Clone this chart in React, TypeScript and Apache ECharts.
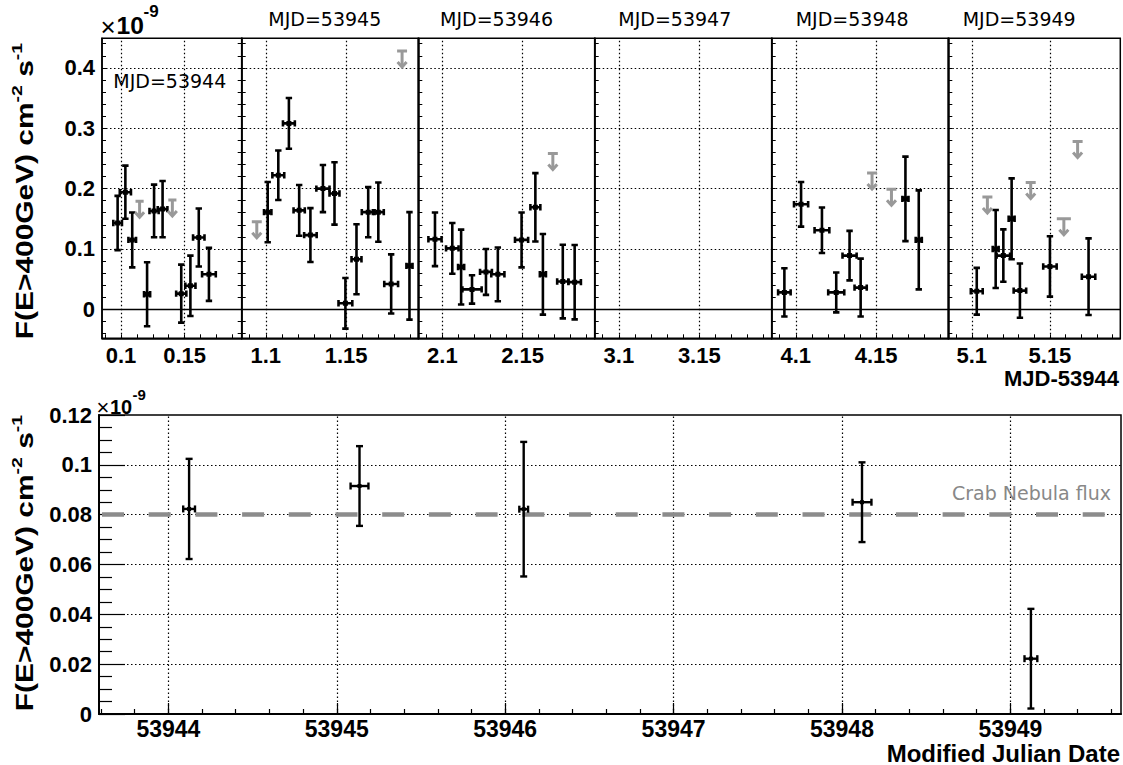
import React, { useEffect, useRef } from "react";
import * as echarts from "echarts";

// ---------------- DATA ----------------
// Top: intra-night light curves. Each point: [MJD-53944, flux(1e-9 cm^-2 s^-1), flux error, time half-width]
const dayOffsets = [0, 1, 2, 3, 4, 5];
const dayLabels = ["MJD=53944", "MJD=53945", "MJD=53946", "MJD=53947", "MJD=53948", "MJD=53949"];

const day0Points = [
  [0.0973, 0.143, 0.045, 0.0034],
  [0.1034, 0.194, 0.044, 0.0044],
  [0.1088, 0.115, 0.0455, 0.003],
  [0.1205, 0.025, 0.053, 0.0024],
  [0.126, 0.163, 0.0436, 0.0036],
  [0.1327, 0.166, 0.0467, 0.0038],
  [0.1474, 0.026, 0.048, 0.004],
  [0.1546, 0.039, 0.05, 0.004],
  [0.1612, 0.119, 0.048, 0.0045],
  [0.1692, 0.058, 0.044, 0.0054],
];
const day0Limits = [
  [0.1146, 0.179, 0.0032],
  [0.1404, 0.181, 0.0032],
];

const day1Points = [
  [1.1012, 0.161, 0.05, 0.0023],
  [1.1078, 0.222, 0.041, 0.0037],
  [1.1144, 0.308, 0.042, 0.0037],
  [1.1208, 0.164, 0.042, 0.0035],
  [1.1278, 0.123, 0.0447, 0.0039],
  [1.1356, 0.2, 0.039, 0.0041],
  [1.1428, 0.192, 0.0516, 0.0031],
  [1.1496, 0.01, 0.042, 0.0043],
  [1.1565, 0.083, 0.058, 0.0031],
  [1.1638, 0.161, 0.0417, 0.004],
  [1.1701, 0.161, 0.049, 0.0034],
  [1.1781, 0.042, 0.049, 0.0043],
  [1.1895, 0.072, 0.089, 0.0019],
];
const day1Limits = [
  [1.0944, 0.145, 0.0031],
  [1.1849, 0.428, 0.0031],
];

const day2Points = [
  [2.0954, 0.116, 0.0445, 0.0041],
  [2.1062, 0.101, 0.042, 0.0039],
  [2.1117, 0.07, 0.062, 0.0019],
  [2.1185, 0.033, 0.0235, 0.006],
  [2.1272, 0.062, 0.038, 0.0037],
  [2.1346, 0.058, 0.0445, 0.0041],
  [2.1494, 0.115, 0.0455, 0.0041],
  [2.158, 0.169, 0.0566, 0.0031],
  [2.1627, 0.058, 0.0668, 0.0019],
  [2.1751, 0.046, 0.061, 0.0035],
  [2.1825, 0.045, 0.0616, 0.0039],
];
const day2Limits = [[2.1689, 0.258, 0.0031]];

const day3Points: number[][] = [];
const day3Limits: number[][] = [];

const day4Points = [
  [4.0929, 0.028, 0.04, 0.0039],
  [4.1033, 0.174, 0.037, 0.0044],
  [4.1163, 0.131, 0.0376, 0.0046],
  [4.1252, 0.028, 0.033, 0.005],
  [4.1335, 0.089, 0.041, 0.0044],
  [4.1404, 0.036, 0.048, 0.0038],
  [4.1683, 0.183, 0.07, 0.0019],
  [4.1766, 0.115, 0.082, 0.0019],
];
const day4Limits = [
  [4.1475, 0.226, 0.0031],
  [4.1596, 0.199, 0.0031],
];

const day5Points = [
  [5.1032, 0.03, 0.0387, 0.0038],
  [5.1153, 0.1, 0.0646, 0.0019],
  [5.1202, 0.089, 0.0434, 0.0043],
  [5.1255, 0.15, 0.067, 0.0019],
  [5.1308, 0.031, 0.045, 0.004],
  [5.15, 0.071, 0.05, 0.0043],
  [5.1747, 0.054, 0.0635, 0.0043],
];
const day5Limits = [
  [5.11, 0.186, 0.0032],
  [5.1377, 0.21, 0.0032],
  [5.1589, 0.15, 0.0045],
  [5.1677, 0.278, 0.0032],
];

const panelPoints = [day0Points, day1Points, day2Points, day3Points, day4Points, day5Points];
const panelLimits = [day0Limits, day1Limits, day2Limits, day3Limits, day4Limits, day5Limits];

// Bottom: nightly averages [MJD, flux, flux error, time half-width]
const nightlyPoints = [
  [53944.123, 0.0823, 0.0201, 0.035],
  [53945.135, 0.0915, 0.016, 0.053],
  [53946.11, 0.0822, 0.027, 0.026],
  [53948.119, 0.085, 0.016, 0.056],
  [53949.122, 0.0222, 0.02, 0.038],
];
const crabFlux = 0.0818;

// tick labels
const topYTickLabels = [0, 0.1, 0.2, 0.3, 0.4];
const topXTickOffsets = [0.1, 0.15];
const bottomXTickLabels = [53944, 53945, 53946, 53947, 53948, 53949];
const bottomYGrid = [0.02, 0.04, 0.06, 0.08, 0.1];

// ---------------- LAYOUT ----------------
const panelLeft = [102, 241.7, 418.3, 594.7, 771.7, 948.3];
const panelWidth = [139.7, 176.6, 176.4, 177, 176.6, 172];
const panelTop = 38.3;
const panelHeight = 300;
const topYMin = -0.048;
const topYMax = 0.449;
const labelPos = [
  [113.3, 80.5],
  [268.3, 19],
  [440, 19],
  [618.3, 19],
  [795.7, 19],
  [962.7, 19],
];

const FB = "'Liberation Sans', Arial, Helvetica, sans-serif";
const FR = "'DejaVu Sans', sans-serif";
const GRAY = "#999999";

function range(a: number, b: number, step: number) {
  const out: number[] = [];
  for (let v = a; v <= b + step * 1e-6; v += step) out.push(Math.round(v * 10000) / 10000);
  return out;
}

function errorBarSeries(data: number[][], xi: number, yi: number, opts: any) {
  return {
    type: "custom",
    xAxisIndex: xi,
    yAxisIndex: yi,
    clip: true,
    silent: true,
    z: 5,
    data,
    renderItem: (params: any, api: any) => {
      const x = api.value(0);
      const y = api.value(1);
      const e = api.value(2);
      const xe = api.value(3);
      const c = api.coord([x, y]);
      const pt = api.coord([x, y + e]);
      const pb = api.coord([x, y - e]);
      const pl = api.coord([x - xe, y]);
      const pr = api.coord([x + xe, y]);
      const cap = opts.cap;
      const st = { stroke: "#000", lineWidth: opts.lw, lineCap: "butt" };
      const children: any[] = [
        { type: "line", shape: { x1: c[0], y1: pt[1], x2: c[0], y2: pb[1] }, style: st },
        { type: "line", shape: { x1: c[0] - cap, y1: pt[1], x2: c[0] + cap, y2: pt[1] }, style: st },
        { type: "line", shape: { x1: c[0] - cap, y1: pb[1], x2: c[0] + cap, y2: pb[1] }, style: st },
        { type: "line", shape: { x1: pl[0], y1: c[1], x2: pr[0], y2: c[1] }, style: st },
        { type: "line", shape: { x1: pl[0], y1: c[1] - cap, x2: pl[0], y2: c[1] + cap }, style: st },
        { type: "line", shape: { x1: pr[0], y1: c[1] - cap, x2: pr[0], y2: c[1] + cap }, style: st },
        {
          type: "rect",
          shape: { x: c[0] - opts.ms / 2, y: c[1] - opts.ms / 2, width: opts.ms, height: opts.ms },
          style: { fill: "#000" },
        },
      ];
      return { type: "group", children };
    },
  };
}

function upperLimitSeries(data: number[][], xi: number, yi: number) {
  return {
    type: "custom",
    xAxisIndex: xi,
    yAxisIndex: yi,
    clip: true,
    silent: true,
    z: 5,
    data,
    renderItem: (params: any, api: any) => {
      const x = api.value(0);
      const ul = api.value(1);
      const xe = api.value(2);
      const p = api.coord([x, ul]);
      const pl = api.coord([x - xe, ul]);
      const pr = api.coord([x + xe, ul]);
      const len = 16;
      const st = { stroke: GRAY, lineWidth: 3, fill: "none" };
      return {
        type: "group",
        children: [
          { type: "line", shape: { x1: pl[0], y1: p[1], x2: pr[0], y2: p[1] }, style: st },
          { type: "line", shape: { x1: p[0], y1: p[1], x2: p[0], y2: p[1] + len - 1 }, style: st },
          {
            type: "polyline",
            shape: { points: [[p[0] - 4.5, p[1] + len - 5], [p[0], p[1] + len], [p[0] + 4.5, p[1] + len - 5]] },
            style: st,
          },
        ],
      };
    },
  };
}

const dotted = { type: [1.5, 2.5], color: "#000", width: 1.2 };

function buildOption() {
  const grid: any[] = [];
  const xAxis: any[] = [];
  const yAxis: any[] = [];
  const series: any[] = [];
  const yMinor = range(-0.04, 0.44, 0.02);

  dayOffsets.forEach((d, i) => {
    grid.push({
      left: panelLeft[i],
      top: panelTop,
      width: panelWidth[i],
      height: panelHeight,
      show: true,
      borderColor: "#000",
      borderWidth: 1.5,
      containLabel: false,
    });
    const xMinor = i === 0 ? range(d + 0.0875, d + 0.1875, 0.0125) : range(d + 0.09, d + 0.19, 0.01);
    xAxis.push({
      type: "value",
      gridIndex: i,
      min: d + 0.085,
      max: d + 0.195,
      position: "bottom",
      axisLine: { show: true, onZero: false, lineStyle: { color: "#000", width: 1.5 } },
      axisTick: { show: true, inside: true, length: 4, customValues: xMinor, lineStyle: { color: "#000", width: 1 } },
      axisLabel: {
        show: true,
        customValues: topXTickOffsets.map((o) => d + o),
        formatter: (v: number) => String(Math.round(v * 1000) / 1000),
        fontFamily: FB,
        fontWeight: "bold",
        fontSize: 22,
        lineHeight: 16,
        color: "#000",
        margin: 9,
      },
      splitLine: { show: false },
    });
    yAxis.push({
      type: "value",
      gridIndex: i,
      min: topYMin,
      max: topYMax,
      axisLine: { show: true, onZero: false, lineStyle: { color: "#000", width: 1.5 } },
      axisTick: { show: true, inside: true, length: 4, customValues: yMinor, lineStyle: { color: "#000", width: 1 } },
      axisLabel: {
        show: i === 0,
        customValues: topYTickLabels,
        formatter: (v: number) => String(Math.round(v * 100) / 100),
        fontFamily: FB,
        fontWeight: "bold",
        fontSize: 22,
        color: "#000",
        margin: 7,
      },
      splitLine: { show: false },
    });
  });
  // right ticks of the first panel
  yAxis.push({
    type: "value",
    gridIndex: 0,
    position: "right",
    min: topYMin,
    max: topYMax,
    axisLine: { show: false },
    axisTick: { show: true, inside: true, length: 4, customValues: yMinor, lineStyle: { color: "#000", width: 1 } },
    axisLabel: { show: false },
    splitLine: { show: false },
  });

  dayOffsets.forEach((d, i) => {
    series.push({
      type: "custom",
      xAxisIndex: i,
      yAxisIndex: i,
      data: [],
      z: 1,
      renderItem: () => ({ type: "group", children: [] }),
      markLine: {
        silent: true,
        symbol: ["none", "none"],
        label: { show: false },
        animation: false,
        lineStyle: dotted,
        data: [
          ...topYTickLabels.filter((v) => v > 0).map((v) => ({ yAxis: v })),
          ...topXTickOffsets.map((o) => ({ xAxis: d + o })),
          { yAxis: 0, lineStyle: { type: "solid", color: "#000", width: 1.3 } },
        ],
      },
    });
    series.push(errorBarSeries(panelPoints[i], i, i, { cap: 3.2, lw: 2.6, ms: 5 }));
    series.push(upperLimitSeries(panelLimits[i], i, i));
  });

  // bottom panel
  const bG = 6;
  grid.push({ left: 99, top: 415, width: 1022, height: 299, show: true, borderColor: "#000", borderWidth: 1.5 });
  const bXMin = 53943.588;
  const bXMax = 53949.657;
  const bMinor = range(53943.6, 53949.6, 0.2);
  xAxis.push({
    type: "value",
    gridIndex: bG,
    min: bXMin,
    max: bXMax,
    position: "bottom",
    axisLine: { show: true, onZero: false, lineStyle: { color: "#000", width: 2 } },
    axisTick: { show: true, inside: true, length: 5, customValues: bMinor, lineStyle: { color: "#000", width: 1.2 } },
    axisLabel: {
      show: true,
      customValues: bottomXTickLabels,
      formatter: (v: number) => String(Math.round(v)),
      fontFamily: FB,
      fontWeight: "bold",
      fontSize: 23,
      lineHeight: 16,
      color: "#000",
      margin: 6.5,
    },
    splitLine: { show: false },
  });
  xAxis.push({
    type: "value",
    gridIndex: bG,
    min: bXMin,
    max: bXMax,
    position: "bottom",
    axisLine: { show: false },
    axisTick: { show: true, inside: true, length: 11, customValues: bottomXTickLabels, lineStyle: { color: "#000", width: 1.2 } },
    axisLabel: { show: false },
    splitLine: { show: false },
  });
  yAxis.push({
    type: "value",
    gridIndex: bG,
    min: 0,
    max: 0.12,
    interval: 0.02,
    axisLine: { show: true, onZero: false, lineStyle: { color: "#000", width: 2 } },
    axisTick: { show: true, inside: true, length: 26, lineStyle: { color: "#000", width: 1.2 } },
    minorTick: { show: true, splitNumber: 4, length: 13, lineStyle: { color: "#000", width: 1.2 } },
    axisLabel: {
      show: true,
      formatter: (v: number) => String(Math.round(v * 1000) / 1000),
      fontFamily: FB,
      fontWeight: "bold",
      fontSize: 22,
      color: "#000",
      margin: 7,
    },
    splitLine: { show: false },
  });
  const bX = 6;
  const bY = 7;
  series.push({
    type: "custom",
    xAxisIndex: bX,
    yAxisIndex: bY,
    data: [],
    z: 1,
    renderItem: () => ({ type: "group", children: [] }),
    markLine: {
      silent: true,
      symbol: ["none", "none"],
      label: { show: false },
      animation: false,
      lineStyle: dotted,
      data: [...bottomYGrid.map((v) => ({ yAxis: v })), ...bottomXTickLabels.map((v) => ({ xAxis: v }))],
    },
  });
  series.push({
    type: "custom",
    xAxisIndex: bX,
    yAxisIndex: bY,
    data: [],
    z: 2,
    renderItem: () => ({ type: "group", children: [] }),
    markLine: {
      silent: true,
      symbol: ["none", "none"],
      label: { show: false },
      animation: false,
      lineStyle: { type: [22, 24.7], color: "#8c8c8c", width: 4.5, dashOffset: -3 },
      data: [{ yAxis: crabFlux }],
    },
  });
  series.push(errorBarSeries(nightlyPoints, bX, bY, { cap: 3.5, lw: 2.4, ms: 4 }));

  const sup = (big: number, small: number) => ({
    b: { fontFamily: FB, fontWeight: "bold", fontSize: big, lineHeight: big + 4, verticalAlign: "bottom", fill: "#000" },
    s: { fontFamily: FB, fontWeight: "bold", fontSize: small, lineHeight: small, verticalAlign: "top", fill: "#000" },
  });

  const txt = (text: string, x: number, y: number, font: any, extra: any = {}) => ({
    type: "text",
    x,
    y,
    z: 10,
    ...extra,
    style: { text, fill: "#000", textAlign: "left", textVerticalAlign: "middle", ...font },
  });
  const bold = (size: number) => ({ fontFamily: FB, fontWeight: "bold", fontSize: size, lineHeight: size - 5 });
  const reg = (size: number) => ({ fontFamily: FB, fontSize: size, lineHeight: size - 6 });

  const graphic: any[] = [
    ...dayLabels.map((t, i) => txt(t, labelPos[i][0], labelPos[i][1], { fontFamily: FR, fontSize: 19 })),
    // x10^-9 (top)
    txt("×", 100.5, 27, reg(26)),
    txt("10", 116.5, 26, bold(23), { scaleX: 1.07 }),
    txt("-9", 143.5, 11, bold(17)),
    // x10^-9 (bottom)
    txt("×", 96.5, 407, reg(22)),
    txt("10", 110, 406.5, bold(20)),
    txt("-9", 132.5, 394.5, bold(15)),
    {
      type: "text",
      x: 23,
      y: 191,
      rotation: Math.PI / 2,
      scaleX: 1.3,
      style: { text: "{b|F(E>400GeV) cm}{s|-2}{b| s}{s|-1}", rich: sup(23, 15), textAlign: "center", textVerticalAlign: "middle" },
    },
    {
      type: "text",
      x: 23,
      y: 563,
      rotation: Math.PI / 2,
      scaleX: 1.3,
      style: { text: "{b|F(E>400GeV) cm}{s|-2}{b| s}{s|-1}", rich: sup(23, 15), textAlign: "center", textVerticalAlign: "middle" },
    },
    txt("MJD-53944", 1119, 378, bold(22), {}),
    txt("Modified Julian Date", 1120, 753, bold(24), {}),
    txt("Crab Nebula flux", 952, 493, { fontFamily: FR, fontSize: 19, fill: "#888888" }),
  ];
  // right-align the two axis titles
  graphic[graphic.length - 3].style.textAlign = "right";
  graphic[graphic.length - 2].style.textAlign = "right";

  return {
    animation: false,
    backgroundColor: "#fff",
    grid,
    xAxis,
    yAxis,
    series,
    graphic,
  };
}

export default function App() {
  const ref = useRef<HTMLDivElement>(null);
  useEffect(() => {
    if (!ref.current) return;
    const chart = echarts.init(ref.current, undefined, { renderer: "svg" });
    chart.setOption(buildOption() as any);
    return () => chart.dispose();
  }, []);
  return <div ref={ref} style={{ position: "absolute", left: 0, top: 0, width: 1123, height: 765 }} />;
}
